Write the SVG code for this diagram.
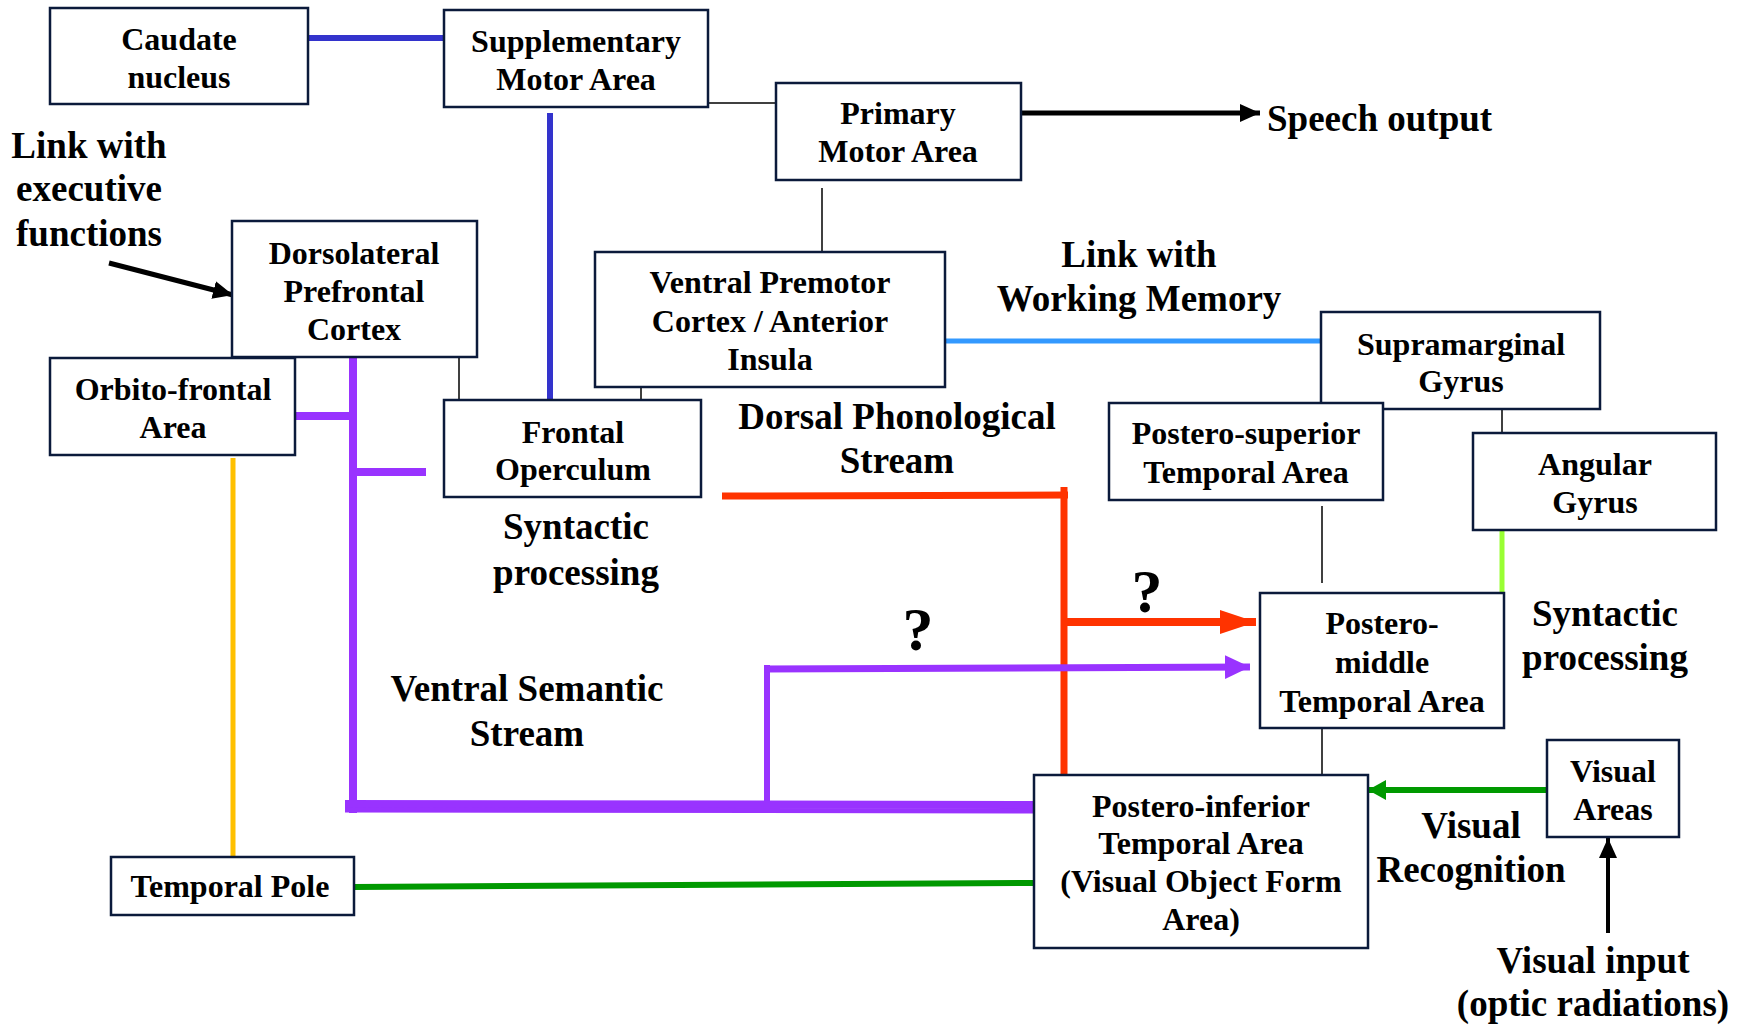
<svg xmlns="http://www.w3.org/2000/svg" width="1747" height="1025" viewBox="0 0 1747 1025">
  <style>
    .box { fill: #ffffff; stroke: #0b1a3b; stroke-width: 2.5; }
    .bt { font-family: "Liberation Serif", "Times New Roman", serif; font-weight: bold; font-size: 32px; fill: #000; text-anchor: middle; }
    .lbl { font-family: "Liberation Serif", "Times New Roman", serif; font-weight: bold; font-size: 37px; fill: #000; text-anchor: middle; }
    .start { text-anchor: start; }
    .q { font-family: "Liberation Serif", "Times New Roman", serif; font-weight: bold; font-size: 62px; fill: #000; text-anchor: middle; }
    .thin { stroke: #000; stroke-width: 1.5; fill: none; }
    .purple { stroke: #9933ff; fill: none; }
    .red { stroke: #ff3300; fill: none; }
  </style>
  <defs>
    <marker id="ahRed" markerUnits="userSpaceOnUse" markerWidth="36" markerHeight="26" refX="36" refY="13" orient="auto">
      <path d="M0,1 L36,13 L0,25 z" fill="#ff3300"/>
    </marker>
    <marker id="ahPurple" markerUnits="userSpaceOnUse" markerWidth="25" markerHeight="26" refX="25" refY="13" orient="auto">
      <path d="M0,1 L25,13 L0,25 z" fill="#9933ff"/>
    </marker>
    <marker id="ahBlack" markerUnits="userSpaceOnUse" markerWidth="20" markerHeight="18" refX="20" refY="9" orient="auto">
      <path d="M0,0 L20,9 L0,18 z" fill="#000"/>
    </marker>
    <marker id="ahGreen" markerUnits="userSpaceOnUse" markerWidth="18" markerHeight="20" refX="18" refY="10" orient="auto">
      <path d="M0,0 L18,10 L0,20 z" fill="#009900"/>
    </marker>
  </defs>
  <rect width="1747" height="1025" fill="#ffffff"/>

  <!-- connectors -->
  <g id="connectors">
    <!-- caudate / SMA -->
    <line x1="306" y1="38" x2="446" y2="38" stroke="#3333cc" stroke-width="6"/>
    <line x1="550" y1="113" x2="550" y2="405" stroke="#3333cc" stroke-width="6"/>
    <!-- thin links -->
    <line class="thin" x1="708" y1="103" x2="776" y2="103"/>
    <line class="thin" x1="822" y1="188" x2="822" y2="252"/>
    <line class="thin" x1="459" y1="354" x2="459" y2="400"/>
    <line class="thin" x1="641" y1="354" x2="641" y2="400"/>
    <line class="thin" x1="1502" y1="400" x2="1502" y2="433"/>
    <line class="thin" x1="1322" y1="506" x2="1322" y2="583"/>
    <line class="thin" x1="1322" y1="728" x2="1322" y2="775"/>
    <!-- working memory link -->
    <line x1="940" y1="341" x2="1322" y2="341" stroke="#3399ff" stroke-width="5"/>
    <!-- angular to postero-middle -->
    <line x1="1502" y1="491" x2="1502" y2="596" stroke="#99ff33" stroke-width="5"/>
    <!-- dorsal phonological stream -->
    <line class="red" x1="722" y1="496" x2="1068" y2="495" stroke-width="7"/>
    <line class="red" x1="1064" y1="487" x2="1064" y2="779" stroke-width="7"/>
    <line class="red" x1="1064" y1="622" x2="1256" y2="622" stroke-width="8" marker-end="url(#ahRed)"/>
    <!-- ventral semantic stream -->
    <line class="purple" x1="353" y1="350" x2="353" y2="813" stroke-width="8"/>
    <line class="purple" x1="287" y1="416" x2="357" y2="416" stroke-width="8"/>
    <line class="purple" x1="353" y1="472" x2="426" y2="472" stroke-width="8"/>
    <line class="purple" x1="345" y1="804" x2="1036" y2="805" stroke-width="8"/>
    <line class="purple" x1="345" y1="810" x2="1036" y2="811" stroke-width="5"/>
    <line class="purple" x1="767" y1="665" x2="767" y2="812" stroke-width="6"/>
    <line class="purple" x1="764" y1="669" x2="1250" y2="667" stroke-width="7" marker-end="url(#ahPurple)"/>
    <!-- orbito-frontal to temporal pole -->
    <line x1="233" y1="458" x2="233" y2="857" stroke="#ffc000" stroke-width="5"/>
    <!-- temporal pole to postero-inferior -->
    <line x1="354" y1="887" x2="1034" y2="883" stroke="#009900" stroke-width="6"/>
    <!-- visual areas to postero-inferior -->
    <line x1="1551" y1="790" x2="1368" y2="790" stroke="#009900" stroke-width="6" marker-end="url(#ahGreen)"/>
    <!-- visual input -->
    <line x1="1608" y1="933" x2="1608" y2="838" stroke="#000" stroke-width="4" marker-end="url(#ahBlack)"/>
    <!-- speech output -->
    <line x1="1016" y1="113" x2="1260" y2="113" stroke="#000" stroke-width="5" marker-end="url(#ahBlack)"/>
    <!-- executive functions -->
    <line x1="109" y1="263" x2="233" y2="295" stroke="#000" stroke-width="5" marker-end="url(#ahBlack)"/>
  </g>

  <!-- nodes -->
  <g id="caudate">
    <rect class="box" x="50" y="8" width="258" height="96"/>
    <text class="bt" x="179" y="50">Caudate</text>
    <text class="bt" x="179" y="88">nucleus</text>
  </g>
  <g id="sma">
    <rect class="box" x="444" y="10" width="264" height="97"/>
    <text class="bt" x="576" y="52">Supplementary</text>
    <text class="bt" x="576" y="90">Motor Area</text>
  </g>
  <g id="primary-motor">
    <rect class="box" x="776" y="83" width="245" height="97"/>
    <text class="bt" x="898" y="124">Primary</text>
    <text class="bt" x="898" y="162">Motor Area</text>
  </g>
  <g id="ventral-premotor">
    <rect class="box" x="595" y="252" width="350" height="135"/>
    <text class="bt" x="770" y="293">Ventral Premotor</text>
    <text class="bt" x="770" y="332">Cortex / Anterior</text>
    <text class="bt" x="770" y="370">Insula</text>
  </g>
  <g id="dlpfc">
    <rect class="box" x="232" y="221" width="245" height="136"/>
    <text class="bt" x="354" y="264">Dorsolateral</text>
    <text class="bt" x="354" y="302">Prefrontal</text>
    <text class="bt" x="354" y="340">Cortex</text>
  </g>
  <g id="orbito-frontal">
    <rect class="box" x="50" y="358" width="245" height="97"/>
    <text class="bt" x="173" y="400">Orbito-frontal</text>
    <text class="bt" x="173" y="438">Area</text>
  </g>
  <g id="frontal-operculum">
    <rect class="box" x="444" y="400" width="257" height="97"/>
    <text class="bt" x="573" y="443">Frontal</text>
    <text class="bt" x="573" y="480">Operculum</text>
  </g>
  <g id="supramarginal">
    <rect class="box" x="1321" y="312" width="279" height="97"/>
    <text class="bt" x="1461" y="355">Supramarginal</text>
    <text class="bt" x="1461" y="392">Gyrus</text>
  </g>
  <g id="postero-superior">
    <rect class="box" x="1109" y="403" width="274" height="97"/>
    <text class="bt" x="1246" y="444">Postero-superior</text>
    <text class="bt" x="1246" y="483">Temporal Area</text>
  </g>
  <g id="angular">
    <rect class="box" x="1473" y="433" width="243" height="97"/>
    <text class="bt" x="1595" y="475">Angular</text>
    <text class="bt" x="1595" y="513">Gyrus</text>
  </g>
  <g id="postero-middle">
    <rect class="box" x="1260" y="593" width="244" height="135"/>
    <text class="bt" x="1382" y="634">Postero-</text>
    <text class="bt" x="1382" y="673">middle</text>
    <text class="bt" x="1382" y="712">Temporal Area</text>
  </g>
  <g id="visual-areas">
    <rect class="box" x="1547" y="740" width="132" height="97"/>
    <text class="bt" x="1613" y="782">Visual</text>
    <text class="bt" x="1613" y="820">Areas</text>
  </g>
  <g id="postero-inferior">
    <rect class="box" x="1034" y="775" width="334" height="173"/>
    <text class="bt" x="1201" y="817">Postero-inferior</text>
    <text class="bt" x="1201" y="854">Temporal Area</text>
    <text class="bt" x="1201" y="892">(Visual Object Form</text>
    <text class="bt" x="1201" y="930">Area)</text>
  </g>
  <g id="temporal-pole">
    <rect class="box" x="111" y="857" width="243" height="58"/>
    <text class="bt" x="230" y="897">Temporal Pole</text>
  </g>

  <!-- free labels -->
  <g id="labels">
    <text class="lbl" x="89" y="158">Link with</text>
    <text class="lbl" x="89" y="201">executive</text>
    <text class="lbl" x="89" y="246">functions</text>
    <text class="lbl start" x="1267" y="131">Speech output</text>
    <text class="lbl" x="1139" y="267">Link with</text>
    <text class="lbl" x="1139" y="311">Working Memory</text>
    <text class="lbl" x="897" y="429">Dorsal Phonological</text>
    <text class="lbl" x="897" y="473">Stream</text>
    <text class="lbl" x="576" y="539">Syntactic</text>
    <text class="lbl" x="576" y="585">processing</text>
    <text class="lbl" x="527" y="701">Ventral Semantic</text>
    <text class="lbl" x="527" y="746">Stream</text>
    <text class="lbl" x="1605" y="626">Syntactic</text>
    <text class="lbl" x="1605" y="670">processing</text>
    <text class="lbl" x="1471" y="838">Visual</text>
    <text class="lbl" x="1471" y="882">Recognition</text>
    <text class="lbl" x="1593" y="973">Visual input</text>
    <text class="lbl" x="1593" y="1016">(optic radiations)</text>
    <text class="q" x="1147" y="612">?</text>
    <text class="q" x="918" y="650">?</text>
  </g>
</svg>
